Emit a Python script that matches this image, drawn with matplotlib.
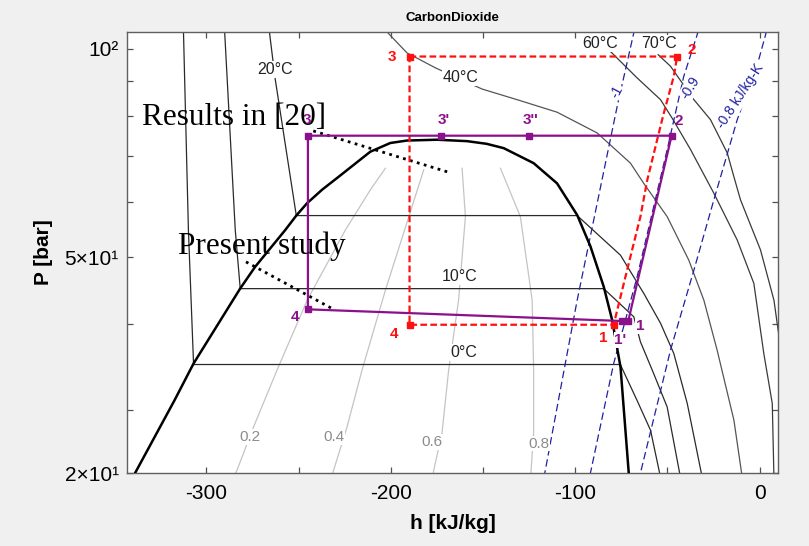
import matplotlib
matplotlib.use('Agg')
import matplotlib.pyplot as plt
from matplotlib.ticker import FixedLocator, FixedFormatter, NullFormatter

# ---------------- data (h in kJ/kg, P in bar) ----------------
# saturation dome
dome_h = [-338.6, -317.3, -306.9, -281.6, -273.5, -257.2, -251.2, -245.4, -237.1, -228.3,
          -211.1, -200.2, -191.2, -174.9, -158.6, -148.0, -138.7, -122.5, -109.8, -98.9,
          -91.7, -84.5, -79.9, -77.2, -75.4, -70.9]
dome_P = [24.35, 31.0, 35.07, 45.03, 48.4, 54.7, 57.4, 59.8, 62.6, 65.3,
          71.0, 73.1, 73.7, 73.9, 73.55, 72.9, 71.85, 68.35, 63.9, 57.5,
          51.8, 45.3, 40.5, 36.86, 34.67, 24.29]

# isotherms
t0_h = [-312.4, -309.7, -306.9, -75.5, -66.4, -59.1, -53.7]
t0_P = [106.5, 54.7, 34.95, 34.95, 31.0, 28.07, 24.0]
t10_h = [-290.1, -284.3, -281.6, -84.5, -68.2, -64.6, -57.4, -50.1, -42.9]
t10_P = [106.5, 54.7, 45.0, 45.0, 40.97, 37.7, 33.9, 30.34, 24.0]
t20_h = [-265.9, -262.6, -251.2, -98.9, -75.4, -62.8, -53.7, -46.5, -39.2, -31.1]
t20_P = [106.5, 90.3, 57.4, 57.4, 50.3, 44.3, 40.1, 36.26, 30.69, 24.0]
t40_h = [-203.0, -191.2, -175.8, -150.5, -131.5, -109.8, -88.1, -70.0, -62.8, -50.1,
         -38.4, -30.2, -23.0, -13.9, -9.4]
t40_P = [106.5, 98.7, 93.9, 87.5, 84.45, 81.0, 75.6, 68.35, 63.9, 57.2,
         49.5, 43.3, 36.66, 29.03, 24.0]
t60_h = [-83.6, -79.1, -66.4, -53.7, -47.4, -37.4, -24.8, -12.1, -3.1, 2.3, 6.9, 7.8]
t60_P = [100.8, 98.1, 90.8, 84.45, 79.4, 71.5, 61.85, 52.9, 45.8, 36.26, 30.69, 24.0]
t70_h = [-55.0, -48.3, -35.6, -26.6, -17.5, -13.9, -10.3, 0.5, 7.8, 10.3]
t70_P = [98.1, 94.4, 84.45, 79.0, 70.7, 65.3, 60.45, 51.2, 43.3, 38.8]

# isentropes
s10_h = [-64.6, -68.2, -77.2, -98.9, -117.2]
s10_P = [110.3, 105.5, 82.6, 43.3, 23.76]
s09_h = [-32.0, -33.8, -41.1, -50.1, -66.4, -79.1, -92.5]
s09_P = [110.3, 104.9, 91.27, 71.5, 46.8, 35.07, 23.8]
s08_h = [4.9, 3.3, -1.2, -12.1, -24.8, -35.6, -48.3, -65.5]
s08_P = [110.3, 104.9, 94.9, 79.0, 60.45, 47.87, 36.66, 23.8]

# quality lines
q02_h = [-202.9, -211.1, -224.6, -245.3, -261.7, -274.4, -283.4, -285.5]
q02_P = [67.2, 62.5, 54.7, 43.3, 34.28, 28.38, 24.56, 24.0]
q04_h = [-182.1, -202.9, -215.6, -223.7, -231.0, -232.0]
q04_P = [66.85, 44.75, 34.28, 28.38, 24.56, 24.0]
q06_h = [-161.3, -159.5, -163.2, -168.6, -172.2, -176.7, -177.2]
q06_P = [67.2, 57.2, 43.3, 34.28, 27.8, 24.56, 24.0]
q08_h = [-140.5, -129.7, -123.3, -122.5, -122.5, -123.9, -124.0]
q08_P = [67.2, 57.2, 43.3, 34.28, 27.8, 24.56, 24.0]

# cycle: present study (purple)
pur_h = [-244.9, -244.9, -172.7, -125.0, -47.7, -71.2, -74.5, -244.9]
pur_P = [42.0, 74.9, 74.9, 74.9, 74.9, 40.4, 40.4, 42.0]
# cycle: results in [20] (red)
red_h = [-189.8, -44.7, -46.5, -51.9, -54.6, -60.9, -64.6, -69.1, -73.6, -77.6, -79.1, -189.8, -189.8]
red_P = [97.5, 97.5, 91.3, 80.8, 75.6, 64.6, 57.2, 51.2, 45.8, 41.45, 39.9, 39.9, 97.5]
red_pts_h = [-189.8, -44.7, -79.1, -189.8]
red_pts_P = [97.5, 97.5, 39.9, 39.9]

# labels
pur_lab = ["3", "3'", "3''", "2", "4", "1'", "1"]
pur_lab_h = [-245.7, -171.5, -124.3, -43.9, -251.8, -75.4, -64.6]
pur_lab_P = [79.0, 79.0, 79.0, 78.7, 40.9, 37.9, 39.7]
red_lab = ["3", "2", "1", "4"]
red_lab_h = [-199.1, -36.9, -84.6, -198.0]
red_lab_P = [97.5, 99.8, 38.15, 38.66]

iso_lab = ["20°C", "40°C", "60°C", "70°C", "10°C", "0°C"]
iso_lab_h = [-262.6, -162.2, -86.6, -54.6, -162.6, -160.6]
iso_lab_P = [93.3, 90.8, 101.8, 101.8, 46.8, 36.4]

q_lab = ["0.2", "0.4", "0.6", "0.8"]
q_lab_h = [-276.2, -231.0, -177.6, -119.7]
q_lab_P = [27.45, 27.45, 27.0, 26.85]

s_lab = ["-1", "-0.9", "-0.8 kJ/kg-K"]
s_lab_h = [-77.2, -37.4, -10.3]
s_lab_P = [86.7, 87.9, 85.4]

xticks = [-300, -200, -100, 0]
xminor = [-250, -150, -50]
yticks = [24.35, 50, 100]
ytick_labels = ["2×10¹", "5×10¹", "10²"]
yminor = [30, 40, 60, 70, 80, 90]

# ---------------- figure ----------------
plt.rcParams['font.family'] = ['Liberation Sans', 'DejaVu Sans']
plt.rcParams['axes.unicode_minus'] = False
fig = plt.figure(figsize=(8.09, 5.46), dpi=100, facecolor='#F0F0F0')
ax = fig.add_axes([127/809, 1-473/546, (778-127)/809, (473-32)/546])
ax.set_facecolor('white')
ax.set_yscale('log')
ax.set_xlim(-343, 10)
ax.set_ylim(24.35, 105.8)

qc = '#C4C4C4'
for hh, pp in [(q02_h, q02_P), (q04_h, q04_P), (q06_h, q06_P), (q08_h, q08_P)]:
    ax.plot(hh, pp, color=qc, lw=0.9, zorder=1)

ic = '#2a2a2a'
for hh, pp, c in [(t0_h, t0_P, ic), (t10_h, t10_P, ic), (t20_h, t20_P, ic),
                  (t40_h, t40_P, '#555555'), (t60_h, t60_P, '#3a3a3a'), (t70_h, t70_P, '#3a3a3a')]:
    ax.plot(hh, pp, color=c, lw=0.9, zorder=2)

sc = '#2020A0'
for hh, pp in [(s10_h, s10_P), (s09_h, s09_P), (s08_h, s08_P)]:
    ax.plot(hh, pp, color=sc, lw=0.9, ls=(0, (6, 3)), zorder=2)

ax.plot(dome_h, dome_P, color='black', lw=1.8, zorder=3)

# annotation dotted lines
ax.plot([-242.0, -167.7], [76.1, 66.2], color='black', lw=2.0, ls=(0, (1, 1.6)), zorder=4)
ax.plot([-278.5, -231.0], [49.2, 42.0], color='black', lw=2.0, ls=(0, (1, 1.6)), zorder=4)

# cycles
ax.plot(red_h, red_P, color='#FF1010', lw=1.6, ls=(0, (3, 1.5)), zorder=5)
ax.plot(red_pts_h, red_pts_P, ls='none', marker='s', ms=5, color='#FF1010', zorder=6)
ax.plot(pur_h, pur_P, color='#8B108B', lw=1.6, zorder=5)
ax.plot(pur_h[:-1], pur_P[:-1], ls='none', marker='s', ms=4, color='#8B108B', zorder=6)

wb = dict(facecolor='white', edgecolor='none', pad=0.6)
for t, hh, pp in zip(iso_lab, iso_lab_h, iso_lab_P):
    ax.text(hh, pp, t, fontsize=11.5, color='#222222', ha='center', va='center', bbox=wb, zorder=7)
for t, hh, pp in zip(q_lab, q_lab_h, q_lab_P):
    ax.text(hh, pp, t, fontsize=11, color='#8c8c8c', ha='center', va='center', bbox=wb, zorder=7)
for t, hh, pp, r in zip(s_lab, s_lab_h, s_lab_P, [62, 58, 57]):
    ax.text(hh, pp, t, fontsize=10, color=sc, ha='center', va='center', rotation=r,
            rotation_mode='anchor', bbox=wb, zorder=7)
for t, hh, pp in zip(red_lab, red_lab_h, red_lab_P):
    ax.text(hh, pp, t, fontsize=11, fontweight='bold', color='#FF1010', ha='center', va='center',
            bbox=wb if t == '1' else None, zorder=8)
for t, hh, pp in zip(pur_lab, pur_lab_h, pur_lab_P):
    ax.text(hh, pp, t, fontsize=11, fontweight='bold', color='#8B108B', ha='center', va='center',
            bbox=wb if t in ("1", "1'") else None, zorder=8)

ax.text(-335.1, 77.7, "Results in [20]", family=['Liberation Serif', 'DejaVu Serif'],
        fontsize=22.5, ha='left', va='baseline', color='black', zorder=9)
ax.text(-315.1, 50.5, "Present study", family=['Liberation Serif', 'DejaVu Serif'],
        fontsize=22.5, ha='left', va='baseline', color='black', zorder=9)

# axes styling
ax.xaxis.set_major_locator(FixedLocator(xticks))
ax.xaxis.set_minor_locator(FixedLocator(xminor))
ax.yaxis.set_major_locator(FixedLocator(yticks))
ax.yaxis.set_major_formatter(FixedFormatter(ytick_labels))
ax.yaxis.set_minor_locator(FixedLocator(yminor))
ax.yaxis.set_minor_formatter(NullFormatter())
ax.tick_params(which='both', direction='in', length=4, width=0.9, color='#505050',
               top=True, right=True, labelsize=15)
ax.tick_params(axis='x', pad=8)
ax.tick_params(axis='y', pad=6)
for sp in ax.spines.values():
    sp.set_color('#606060')
    sp.set_linewidth(1.0)

ax.set_xlabel('h [kJ/kg]', fontsize=15, fontweight='bold', labelpad=8)
ax.set_ylabel('P [bar]', fontsize=15, fontweight='bold', labelpad=8)
fig.text(452/809, 1-18/546, 'CarbonDioxide', fontsize=9.5, fontweight='bold', ha='center', va='center')

fig.savefig('out.png', dpi=100, facecolor=fig.get_facecolor())
